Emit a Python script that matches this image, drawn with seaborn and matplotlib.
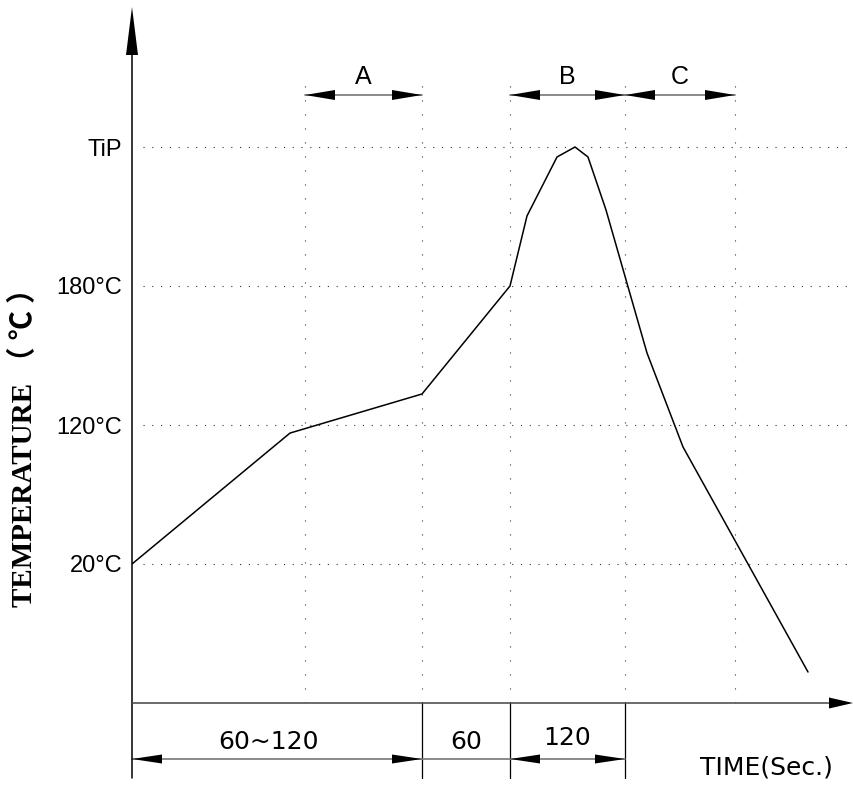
import matplotlib
matplotlib.use("Agg")
import matplotlib.pyplot as plt
import seaborn as sns

# ---------------- data ----------------
# time position along the chart (drawing units) and temperature level
# (0 = 20°C, 1 = 120°C, 2 = 180°C, 3 = TiP)
curve_t = [0, 158, 290, 378, 395, 425, 443, 456, 474, 515, 551, 676]
curve_lvl = [0.0, 0.942, 1.223, 2.0, 2.504, 2.928, 3.0, 2.928, 2.547, 1.518, 0.842, -0.777]

ytick_levels = [0, 1, 2, 3]
ytick_labels = ["20°C", "120°C", "180°C", "TiP"]

zone_bounds = [173, 290, 378, 493, 603]
zone_names = ["A", "B", "C"]
zone_spans = [(173, 290), (378, 493), (493, 603)]

dur_labels = ["60~120", "60", "120"]
dur_spans = [(0, 290), (290, 378), (378, 493)]
dur_heads = [True, False, True]

# ---------------- figure ----------------
sns.set_style("white")
plt.rcParams["font.family"] = ["Liberation Sans", "DejaVu Sans"]
plt.rcParams["text.color"] = "black"
plt.rcParams["ytick.color"] = "black"
plt.rcParams["ytick.labelcolor"] = "black"

W, H = 854, 785
fig = plt.figure(figsize=(W / 100, H / 100), dpi=100)
ax = fig.add_axes([132 / W, (H - 703) / H, (W - 132) / W, 703 / H])


def lvl(py):
    return (564 - py) / 139.0


ax.set_xlim(0, W - 132)
ax.set_ylim(lvl(703), lvl(0))
for s in ax.spines.values():
    s.set_visible(False)
ax.set_xticks([])
ax.set_yticks(ytick_levels)
ax.set_yticklabels(ytick_labels, fontsize=17, color="black")
ax.tick_params(axis="y", length=0, pad=7)
ax.grid(False)

# grid
ax.hlines(ytick_levels, 11, W - 132, colors="#333333", linewidth=0.8,
          linestyles=(0, (1, 6.9)), zorder=1)
ax.vlines(zone_bounds, lvl(703), lvl(75), colors="#333333", linewidth=0.8,
          linestyles=(0, (1, 11.6)), zorder=1)

# curve
sns.lineplot(x=curve_t, y=curve_lvl, sort=False, estimator=None, color="black",
             linewidth=1.1, ax=ax, zorder=5)

# axes lines
ax.plot([0, 0], [lvl(778), lvl(30)], color="black", lw=1.1, clip_on=False, zorder=4)
ax.plot([0, W - 150], [lvl(703), lvl(703)], color="#444444", lw=1.1, clip_on=False, zorder=4)
# extension lines below axis
for t in [290, 378, 493]:
    ax.plot([t, t], [lvl(703), lvl(778)], color="black", lw=0.9, clip_on=False)

K = 10 * 100 / 72.0  # pixels per arrow-style unit at mutation_scale=10


def head(x, y, dx, dy, L=30, hw=4.5):
    ax.annotate("", xy=(x, y), xycoords="data",
                xytext=(-dx * L, -dy * L), textcoords="offset pixels",
                arrowprops=dict(arrowstyle=f"-|>,head_length={L / K:.3f},head_width={hw / K:.3f}",
                                mutation_scale=10, fc="black", ec="black", lw=0,
                                shrinkA=0, shrinkB=0),
                annotation_clip=False, zorder=6)


# axis arrow heads
head(0, lvl(7), 0, 1, L=48, hw=6)
head(W - 133, lvl(703), 1, 0, L=24, hw=5.5)

# zone dimension arrows (top)
for name, (a, b) in zip(zone_names, zone_spans):
    ax.plot([a, b], [lvl(95), lvl(95)], color="#777777", lw=1.2, clip_on=False)
    head(a, lvl(95), -1, 0, L=30, hw=5)
    head(b, lvl(95), 1, 0, L=30, hw=5)
    ax.text((a + b) / 2, lvl(77), name, ha="center", va="center", fontsize=18)

# duration dimension arrows (bottom)
yb = lvl(759)
ax.plot([0, 493], [yb, yb], color="#777777", lw=1.2, clip_on=False)
for lab, (a, b), hd in zip(dur_labels, dur_spans, dur_heads):
    if hd:
        head(a, yb, -1, 0, L=30, hw=4.5)
        head(b, yb, 1, 0, L=30, hw=4.5)
    yl = lvl(738) if lab == "120" else lvl(742)
    ax.text((a + b) / 2 + (-8 if lab == "60~120" else 0), yl, lab, ha="center", va="center",
            fontsize=18, family=["DejaVu Sans"])

ax.text(634, lvl(767), "TIME(Sec.)", ha="center", va="center", fontsize=18,
        family=["DejaVu Sans"])

fig.text(24 / W, 1 - 440 / H, "TEMPERATURE （ ℃ ）", rotation=90, ha="center", va="center",
         fontsize=21, fontweight="bold",
         family=["Liberation Serif", "Noto Sans CJK SC", "DejaVu Sans"])

fig.savefig("out.png", dpi=100)
